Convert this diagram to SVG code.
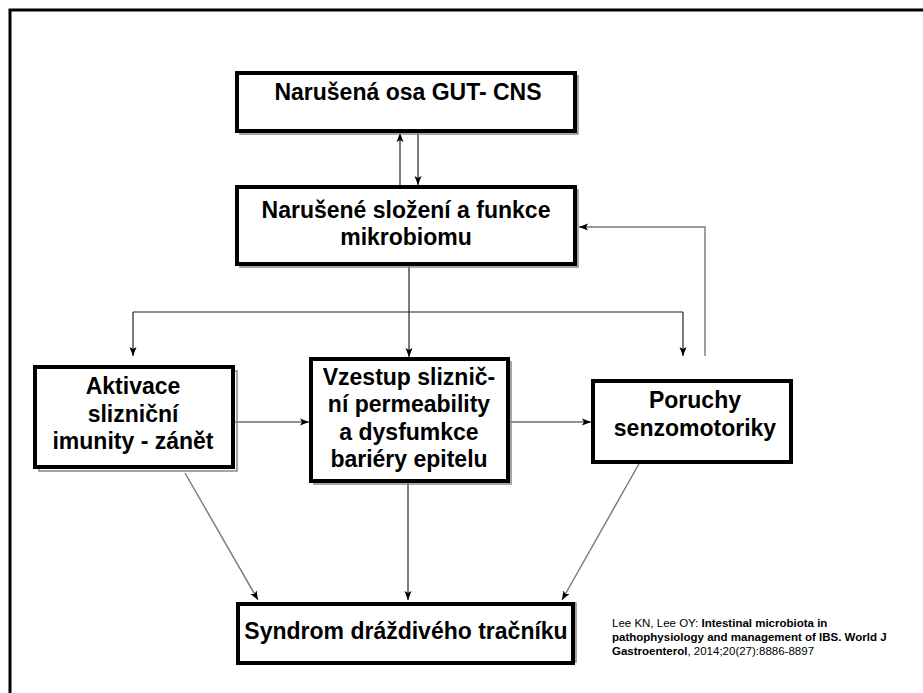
<svg xmlns="http://www.w3.org/2000/svg" width="923" height="693" viewBox="0 0 923 693">
<style>
.box{fill:#fff;stroke:#000;stroke-width:4}
.sh{fill:none;stroke:#888;stroke-width:1.5}
.t{font-family:"Liberation Sans",Arial,sans-serif;font-weight:bold;font-size:23px;fill:#000;text-anchor:middle}
.c{fill:none;stroke:#222;stroke-width:1.2}
.g{fill:none;stroke:#777;stroke-width:1.4}
.cite{font-family:"Liberation Sans",Arial,sans-serif;font-size:11.5px;fill:#000}
</style>
<defs>
<marker id="ah" markerUnits="userSpaceOnUse" markerWidth="10" markerHeight="8" refX="9" refY="4" orient="auto">
<path d="M0,0.5 L9,4 L0,7.5 L2,4 z" fill="#000"/>
</marker>
</defs>
<rect width="923" height="693" fill="#fff"/>
<path d="M10,693 V10 H923" fill="none" stroke="#000" stroke-width="3"/>

<g id="connectors">
<path class="c" d="M400,187 V133" marker-end="url(#ah)"/>
<path class="c" d="M418,131 V185" marker-end="url(#ah)"/>
<path class="c" d="M409,264 V357" marker-end="url(#ah)"/>
<path class="c" d="M133,312 H683"/>
<path class="c" d="M133,312 V356" marker-end="url(#ah)"/>
<path class="c" d="M683,312 V356" marker-end="url(#ah)"/>
<path class="g" d="M705,356 V227 H579" marker-end="url(#ah)"/>
<path class="c" d="M233,422 H309" marker-end="url(#ah)"/>
<path class="c" d="M508,422 H591" marker-end="url(#ah)"/>
<path class="g" d="M185,473 L258,600" marker-end="url(#ah)"/>
<path class="c" d="M408,482 V600" marker-end="url(#ah)"/>
<path class="g" d="M640,462 L562,600" marker-end="url(#ah)"/>
</g>

<g id="gut-cns">
<rect class="sh" x="240" y="76" width="338" height="58"/>
<rect class="box" x="237" y="73" width="338" height="58"/>
<text class="t" x="408" y="100">Narušená osa GUT- CNS</text>
</g>

<g id="mikrobiom">
<rect class="sh" x="240" y="190" width="338" height="77"/>
<rect class="box" x="237" y="187" width="338" height="77"/>
<text class="t" x="406" y="218">Narušené složení a funkce</text>
<text class="t" x="406" y="245">mikrobiomu</text>
</g>

<g id="aktivace">
<rect class="sh" x="39" y="371" width="198" height="100"/>
<rect class="box" x="35" y="367" width="198" height="100"/>
<text class="t" x="133" y="394">Aktivace</text>
<text class="t" x="133" y="422">slizniční</text>
<text class="t" x="133" y="449">imunity - zánět</text>
</g>

<g id="vzestup">
<rect class="sh" x="314" y="362" width="197" height="122"/>
<rect class="box" x="311" y="359" width="197" height="122"/>
<text class="t" x="409" y="385">Vzestup slizni&#269;-</text>
<text class="t" x="409" y="412">ní permeability</text>
<text class="t" x="409" y="440">a dysfumkce</text>
<text class="t" x="409" y="467">bariéry epitelu</text>
</g>

<g id="poruchy">
<rect class="box" x="593" y="381" width="198" height="81"/>
<text class="t" x="695" y="408">Poruchy</text>
<text class="t" x="695" y="436">senzomotoriky</text>
</g>

<g id="syndrom">
<rect class="sh" x="241" y="603" width="335" height="59"/>
<rect class="box" x="238" y="604" width="335" height="59"/>
<text class="t" x="406" y="639">Syndrom dráždivého tračníku</text>
</g>

<g id="citation">
<text class="cite" x="612" y="627">Lee KN, Lee OY: <tspan font-weight="bold">Intestinal microbiota in</tspan></text>
<text class="cite" x="612" y="641" font-weight="bold">pathophysiology and management of IBS. World J</text>
<text class="cite" x="612" y="655"><tspan font-weight="bold">Gastroenterol</tspan>, 2014;20(27):8886-8897</text>
</g>
</svg>
